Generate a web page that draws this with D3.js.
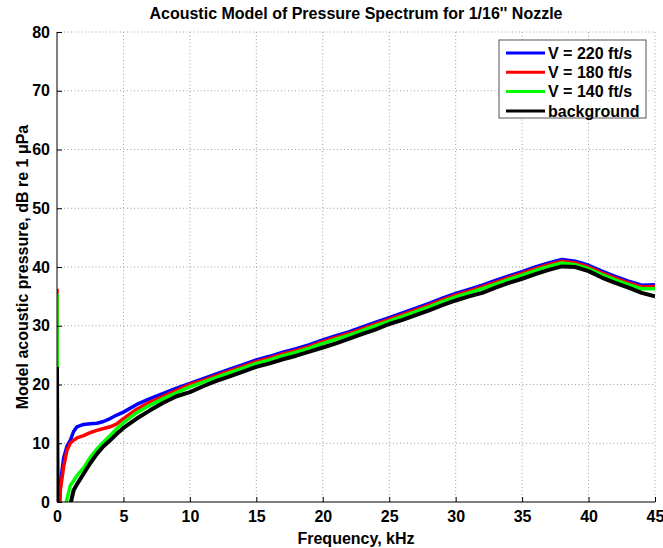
<!DOCTYPE html>
<html>
<head>
<meta charset="utf-8">
<script src="https://cdn.jsdelivr.net/npm/d3@7"></script>
<style>
  body { margin: 0; background: #fff; }
  svg text { font-family: "Liberation Sans", Arial, Helvetica, sans-serif; font-weight: bold; fill: #000; }
</style>
</head>
<body>
<svg id="chart"></svg>
<script>
// frequency grid, kHz (shared by every series)
const freq = [0, 0.05, 0.25, 0.5, 0.75, 1, 1.25, 1.5, 2, 2.5, 3, 3.5, 4, 4.5,
  5, 6, 7, 8, 9, 10, 11, 12, 13, 14, 15, 16, 17, 18, 19, 20, 21, 22, 23, 24, 25,
  26, 27, 28, 29, 30, 31, 32, 33, 34, 35, 36, 37, 38, 39, 40, 41, 42, 43, 44, 45]

// model acoustic pressure, dB re 1 uPa (values below 0 fall off the axis)
const v220 = [20, -8, 3, 7.5, 9.5, 10.5, 12, 12.8, 13.2, 13.3, 13.4, 13.7, 14.2, 14.8,
  15.3, 16.6, 17.6, 18.5, 19.4, 20.2, 21.0, 21.8, 22.6, 23.4, 24.2, 24.8, 25.5, 26.1, 26.8, 27.6, 28.3,
  29.0, 29.8, 30.6, 31.4, 32.2, 33.0, 33.8, 34.7, 35.5, 36.2, 36.9, 37.7, 38.5, 39.2,
  40.0, 40.7, 41.3, 41.0, 40.3, 39.3, 38.4, 37.6, 36.9, 37.0]
const v180 = [36.3, -10, 2, 6, 8.8, 10, 10.5, 10.9, 11.3, 11.8, 12.2, 12.5, 12.8, 13.3,
  14.2, 15.8, 17.0, 18.0, 19.0, 20.0, 20.7, 21.5, 22.3, 23.1, 23.9, 24.5, 25.2, 25.8, 26.5, 27.3, 28.0,
  28.7, 29.5, 30.3, 31.1, 31.9, 32.7, 33.5, 34.4, 35.2, 35.9, 36.6, 37.4, 38.2, 38.9,
  39.7, 40.4, 41.0, 40.7, 40.0, 39.0, 38.1, 37.3, 36.6, 36.7]
const v140 = [35.5, -10, -6, -2, 0.5, 2.8, 3.6, 4.5, 5.8, 7.6, 9.0, 10.2, 11.3, 12.5,
  13.5, 15.2, 16.5, 17.6, 18.6, 19.6, 20.4, 21.2, 22.0, 22.8, 23.6, 24.2, 24.9, 25.5, 26.2, 27.0, 27.7,
  28.4, 29.2, 30.0, 30.8, 31.6, 32.4, 33.2, 34.1, 34.9, 35.6, 36.3, 37.1, 37.9, 38.6,
  39.4, 40.1, 40.7, 40.4, 39.7, 38.7, 37.8, 37.0, 36.3, 36.3]
const vBackground = [23, -10, -10, -8, -4, -0.5, 2, 3, 4.8, 6.6, 8.2, 9.5, 10.5, 11.6,
  12.6, 14.2, 15.6, 16.9, 18.0, 18.7, 19.7, 20.6, 21.4, 22.2, 23.0, 23.6, 24.3, 24.9, 25.6, 26.3, 27.0,
  27.8, 28.6, 29.4, 30.3, 31.0, 31.8, 32.6, 33.5, 34.3, 35.0, 35.6, 36.5, 37.3, 38.0,
  38.8, 39.5, 40.1, 40.0, 39.3, 38.2, 37.3, 36.5, 35.6, 35.0]

const seriesNames = ["V = 220 ft/s", "V = 180 ft/s", "V = 140 ft/s", "background"]
const seriesColors = ["#0000ff", "#ff0000", "#00ff00", "#000000"]
const seriesValues = [v220, v180, v140, vBackground]

const xTicks = [0, 5, 10, 15, 20, 25, 30, 35, 40, 45]
const yTicks = [0, 10, 20, 30, 40, 50, 60, 70, 80]

const width = 663, height = 548
const margin = {top: 32, right: 8, bottom: 46, left: 57}
const plotW = width - margin.left - margin.right,
      plotH = height - margin.top - margin.bottom

const x = d3.scaleLinear().domain([0, 45]).range([0, plotW])
const y = d3.scaleLinear().domain([0, 80]).range([plotH, 0])

const svg = d3.select("#chart").attr("width", width).attr("height", height)
const body = svg.append("g").attr("transform", `translate(${margin.left},${margin.top})`)

body.append("clipPath").attr("id", "plotclip")
  .append("rect").attr("x", 0).attr("y", 0).attr("width", plotW).attr("height", plotH)

// dotted grid
body.append("g").selectAll("line").data(xTicks.filter(d => d > 0)).enter().append("line")
  .attr("x1", d => x(d)).attr("x2", d => x(d)).attr("y1", 0).attr("y2", plotH)
  .attr("stroke", "#a0a0a0").attr("stroke-dasharray", "1,2.5")
body.append("g").selectAll("line").data(yTicks.filter(d => d > 0)).enter().append("line")
  .attr("y1", d => y(d)).attr("y2", d => y(d)).attr("x1", 0).attr("x2", plotW)
  .attr("stroke", "#a0a0a0").attr("stroke-dasharray", "1,2.5")

// curves
const line = d3.line().x((d, i) => x(freq[i])).y(d => y(d))
body.append("g").attr("clip-path", "url(#plotclip)")
  .selectAll("path").data(seriesValues).enter().append("path")
  .attr("d", d => line(d))
  .attr("fill", "none")
  .attr("stroke", (d, i) => seriesColors[i])
  .attr("stroke-width", (d, i) => i == 3 ? 4 : 3.5)
  .attr("stroke-linejoin", "round")

// axes
const xAxis = body.append("g").attr("transform", `translate(0,${plotH})`)
  .call(d3.axisBottom(x).tickValues(xTicks).tickSize(-5).tickPadding(9))
const yAxis = body.append("g")
  .call(d3.axisLeft(y).tickValues(yTicks).tickSize(-5).tickPadding(7))
svg.selectAll(".domain").attr("stroke", "#000")
svg.selectAll(".tick line").attr("stroke", "#000")
svg.selectAll(".tick text").style("font-size", "16px")
xAxis.select(".domain").attr("d", `M0,0H${plotW}`)
yAxis.select(".domain").attr("d", `M0,${plotH}V0`)

// titles
svg.append("text").attr("x", margin.left + plotW / 2).attr("y", 19)
  .attr("text-anchor", "middle").style("font-size", "16px")
  .text("Acoustic Model of Pressure Spectrum for 1/16'' Nozzle")
svg.append("text").attr("x", margin.left + plotW / 2).attr("y", 544)
  .attr("text-anchor", "middle").style("font-size", "16px")
  .text("Frequency, kHz")
svg.append("text")
  .attr("transform", `translate(28,${margin.top + plotH / 2}) rotate(-90)`)
  .attr("text-anchor", "middle").style("font-size", "16px")
  .text("Model acoustic pressure, dB re 1 \u03bcPa")

// legend
const legend = svg.append("g").attr("transform", "translate(499,40)")
legend.append("rect").attr("width", 147).attr("height", 78)
  .attr("fill", "#fff").attr("stroke", "#555")
const items = legend.selectAll("g.item").data(seriesNames).enter().append("g")
  .attr("transform", (d, i) => `translate(0,${13 + i * 19.3})`)
items.append("line").attr("x1", 7).attr("x2", 46)
  .attr("stroke", (d, i) => seriesColors[i]).attr("stroke-width", 3)
items.append("text").attr("x", 49).attr("dy", "0.36em")
  .style("font-size", "16px").text(d => d)
</script>
</body>
</html>
